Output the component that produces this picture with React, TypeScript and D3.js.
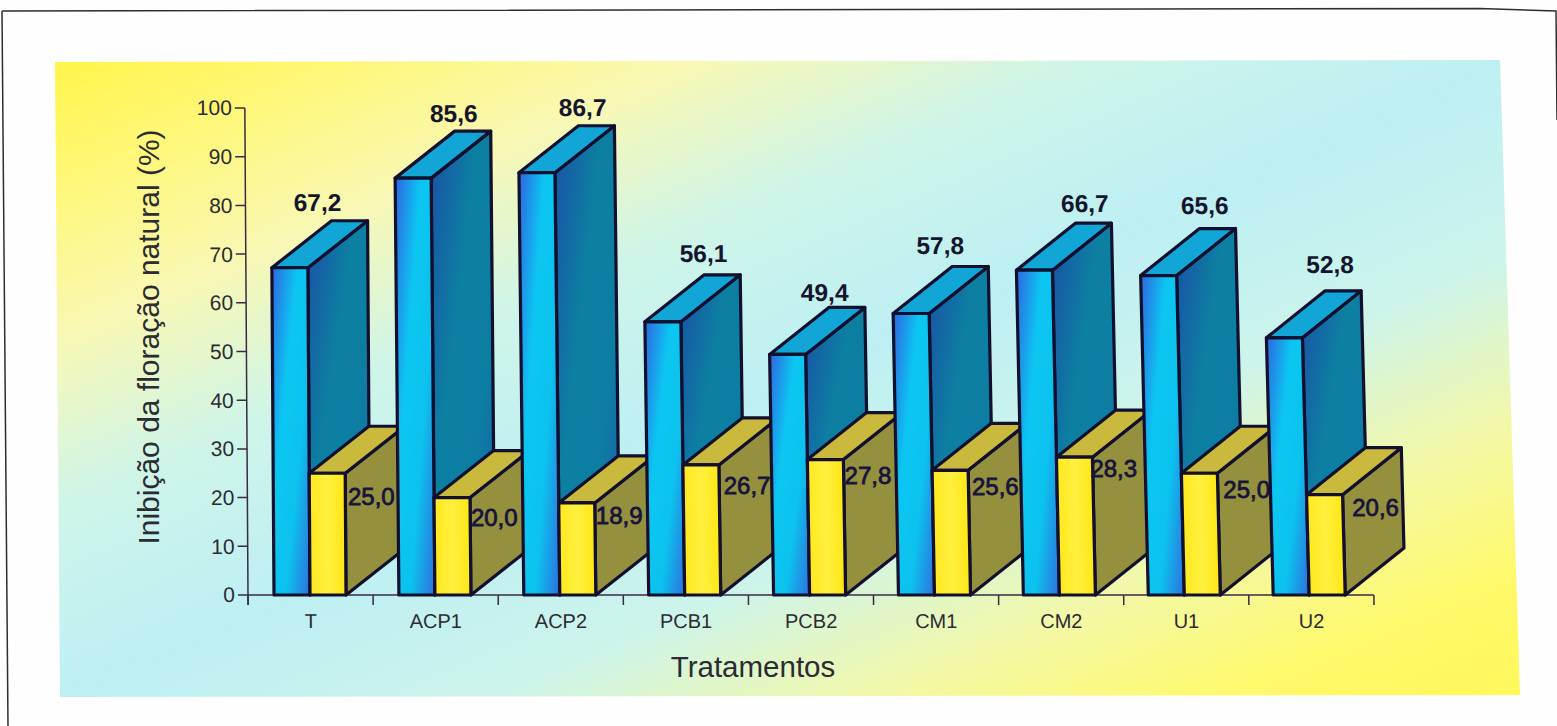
import React from "react";
import * as d3 from "d3";

const categories = ["T", "ACP1", "ACP2", "PCB1", "PCB2", "CM1", "CM2", "U1", "U2"];
const blueValues = [67.2, 85.6, 86.7, 56.1, 49.4, 57.8, 66.7, 65.6, 52.8];
const yellowValues = [25.0, 20.0, 18.9, 26.7, 27.8, 25.6, 28.3, 25.0, 20.6];
const yTicks = [0, 10, 20, 30, 40, 50, 60, 70, 80, 90, 100];

const W = 1557, H = 726;
const y = d3.scaleLinear().domain([0, 100]).range([595, 108]);
const x = d3.scaleBand<string>().domain(categories).range([248, 248 + 125.1 * 9]).paddingInner(0).paddingOuter(0);
const BW = 36, DX = 60, DY = 47, BAR0 = 26;
const base = y(0);
const fmt = (v: number) => v.toFixed(1).replace(".", ",");
const pts = (p: number[][]) => p.map(a => a.join(",")).join(" ");
// label placement relative to the bars
const topNudge: number[][] = [[46, -10], [58, -9], [62, -10], [57, -13], [53, -6], [44, -13], [64, -11], [59, -14.5], [59, -18]];
const sideNudge: number[][] = [[2, 32], [0, 28], [0, 21], [3, 29], [-1, 24], [1.5, 25], [-5, 20], [3, 25], [7, 21]];
// the scanned page leans a little more towards its right side
const leanAt = (i: number) => 0.0065 + i * 0.0025;
const leanTransform = (s: number) => `matrix(1,0,${s},1,${-s * base},0)`;

const INK = "#12102e";
const font = "'Liberation Sans', Arial, sans-serif";

function Box({ x0, top, f, s, t }: { x0: number; top: number; f: string; s: string; t: string }) {
  const x1 = x0 + BW;
  return (
    <g stroke={INK} strokeWidth={3.2} strokeLinejoin="round">
      <polygon points={pts([[x1, top], [x1 + DX, top - DY], [x1 + DX, base - DY], [x1, base]])} fill={s} />
      <polygon points={pts([[x0, top], [x0 + DX, top - DY], [x1 + DX, top - DY], [x1, top]])} fill={t} />
      <polygon points={pts([[x0, top], [x1, top], [x1, base], [x0, base]])} fill={f} />
    </g>
  );
}

export default function App() {
  const xStart = (c: string, i: number) => (x(c) as number) + BAR0 - i * 0.2;
  return (
    <svg width={W} height={H} viewBox={`0 0 ${W} ${H}`} style={{ position: "absolute", left: 0, top: 0, display: "block", background: "#fefefe" }}>
      <defs>
        <linearGradient id="bg" x1="0" y1="0" x2="1" y2="1">
          <stop offset="0" stopColor="#fff54a" />
          <stop offset="0.1" stopColor="#fff778" />
          <stop offset="0.22" stopColor="#f8f8b4" />
          <stop offset="0.35" stopColor="#cff5e8" />
          <stop offset="0.5" stopColor="#bdeff3" />
          <stop offset="0.65" stopColor="#cdf4ea" />
          <stop offset="0.78" stopColor="#f2f8a8" />
          <stop offset="0.9" stopColor="#fff96c" />
          <stop offset="1" stopColor="#fff85a" />
        </linearGradient>
        <linearGradient id="bf" x1="0" y1="0" x2="1" y2="1">
          <stop offset="0" stopColor="#2f66e0" />
          <stop offset="0.36" stopColor="#0cc6f2" />
          <stop offset="0.66" stopColor="#0cc2ee" />
          <stop offset="1" stopColor="#2f6fdc" />
        </linearGradient>
        <linearGradient id="bs" x1="0" y1="0" x2="1" y2="1">
          <stop offset="0" stopColor="#1a4fa6" />
          <stop offset="0.4" stopColor="#0d80a2" />
          <stop offset="0.7" stopColor="#0d7ea2" />
          <stop offset="1" stopColor="#1a5cae" />
        </linearGradient>
        <linearGradient id="yf" x1="0" y1="0" x2="1" y2="0">
          <stop offset="0" stopColor="#ffe81c" />
          <stop offset="0.5" stopColor="#fff040" />
          <stop offset="1" stopColor="#ffe612" />
        </linearGradient>
      </defs>

      <g fill="none" stroke="#2e2e2e" strokeWidth={1.5}>
        <path d="M2,11 L1480,8.5 L1556,11 L1557,120" />
        <path d="M2,11 L8,726" />
      </g>

      <polygon points={pts([[55, 62], [1500, 60], [1520, 695], [60, 697]])} fill="url(#bg)" />

      <g transform={leanTransform(leanAt(0))} fontFamily={font}>
        <g stroke="#3a2a44" strokeWidth={1.5} fill="none">
          <line x1={248} x2={248} y1={y(100)} y2={base + 10} />
          <line x1={248} x2={248 + 125.1 * 9} y1={base} y2={base} />
          {yTicks.map(t => <line key={t} x1={238} x2={248} y1={y(t)} y2={y(t)} />)}
          {d3.range(categories.length + 1).map(i => (
            <line key={i} x1={248 + i * 125.1} x2={248 + i * 125.1} y1={base} y2={base + 10} />
          ))}
        </g>
        {yTicks.map(t => (
          <text key={t} x={235} y={y(t) + 7.5} textAnchor="end" fontSize={21} fill="#2b2b33">{t}</text>
        ))}
        {categories.map(c => (
          <text key={c} x={(x(c) as number) + x.bandwidth() / 2} y={628} textAnchor="middle" fontSize={20} fill="#2b2b33">{c}</text>
        ))}
      </g>

      <g fontFamily={font}>
        {categories.map((c, i) => {
          const x0 = xStart(c, i);
          return (
            <g key={c}>
              <g transform={leanTransform(leanAt(i))}>
                <Box x0={x0} top={y(blueValues[i])} f="url(#bf)" s="url(#bs)" t="#11a6d6" />
                <Box x0={x0 + BW} top={y(yellowValues[i])} f="url(#yf)" s="#94903e" t="#c9ba3e" />
              </g>
              <text x={x0 + BW * 2 + sideNudge[i][0]} y={y(yellowValues[i]) + sideNudge[i][1]} fontSize={24} fill="#16143c" stroke="#16143c" strokeWidth={0.8}>{fmt(yellowValues[i])}</text>
            </g>
          );
        })}
      </g>

      <g transform={leanTransform(leanAt(0))} fontFamily={font}>
        {categories.map((c, i) => (
          <text key={c} x={xStart(c, i) + topNudge[i][0]} y={y(blueValues[i]) - DY + topNudge[i][1]} textAnchor="middle" fontSize={24.5} fontWeight={700} fill="#15152e">{fmt(blueValues[i])}</text>
        ))}
      </g>

      <text transform="translate(159,337) rotate(-90)" textAnchor="middle" fontFamily={font} fontSize={30} fill="#2b2b33">Inibição da floração natural (%)</text>
      <text x={753} y={677} textAnchor="middle" fontFamily={font} fontSize={29.5} fill="#2b2b33">Tratamentos</text>
    </svg>
  );
}
